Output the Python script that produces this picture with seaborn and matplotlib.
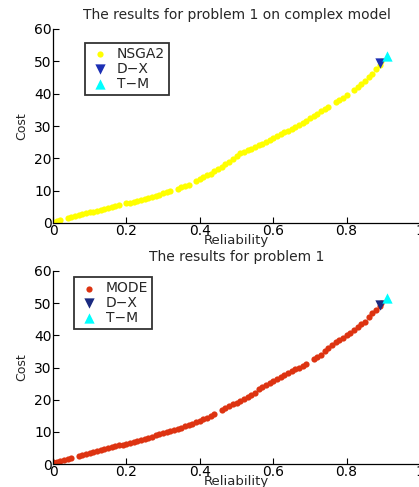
import matplotlib
matplotlib.use("Agg")
import matplotlib.pyplot as plt
import seaborn as sns
import pandas as pd

# ---- data ----
nsga2_rel = [0.00, 0.01, 0.02, 0.04, 0.05, 0.06, 0.07, 0.08, 0.09, 0.10, 0.11, 0.12,
             0.13, 0.14, 0.15, 0.16, 0.17, 0.18, 0.20, 0.21, 0.22, 0.23, 0.24, 0.25,
             0.26, 0.27, 0.28, 0.29, 0.30, 0.31, 0.32, 0.34, 0.35, 0.36, 0.37, 0.39,
             0.40, 0.41, 0.42, 0.43, 0.44, 0.45, 0.46, 0.47, 0.48, 0.49, 0.50, 0.51,
             0.52, 0.53, 0.54, 0.55, 0.56, 0.57, 0.58, 0.59, 0.60, 0.61, 0.62, 0.63,
             0.64, 0.65, 0.66, 0.67, 0.68, 0.69, 0.70, 0.71, 0.72, 0.73, 0.74, 0.75,
             0.77, 0.78, 0.79, 0.80, 0.82, 0.83, 0.84, 0.85, 0.86, 0.87, 0.88, 0.89, 0.895]
nsga2_cost = [0.2, 0.5, 0.8, 1.4, 1.8, 2.1, 2.4, 2.7, 3.0, 3.3, 3.5, 3.8,
              4.1, 4.4, 4.7, 5.0, 5.2, 5.5, 6.1, 6.3, 6.6, 6.9, 7.2, 7.5,
              7.8, 8.1, 8.5, 8.8, 9.2, 9.5, 9.9, 10.6, 11.0, 11.4, 11.9, 12.9,
              13.5, 14.1, 14.7, 15.3, 16.0, 16.7, 17.4, 18.2, 19.0, 19.9, 20.8, 21.5,
              22.0, 22.5, 23.0, 23.5, 24.0, 24.5, 25.1, 25.7, 26.3, 26.8, 27.4, 28.0,
              28.6, 29.2, 29.8, 30.4, 31.0, 31.7, 32.4, 33.1, 33.8, 34.5, 35.2, 35.9,
              37.3, 38.0, 38.8, 39.6, 41.2, 42.1, 43.0, 44.0, 45.0, 46.1, 47.5, 49.0, 50.0]

mode_rel = [0.00, 0.01, 0.02, 0.03, 0.04, 0.05, 0.07, 0.08, 0.09, 0.10, 0.11, 0.12,
            0.13, 0.14, 0.15, 0.16, 0.17, 0.18, 0.19, 0.20, 0.21, 0.22, 0.23, 0.24,
            0.25, 0.26, 0.27, 0.28, 0.29, 0.30, 0.31, 0.32, 0.33, 0.34, 0.35, 0.36,
            0.37, 0.38, 0.39, 0.40, 0.41, 0.42, 0.43, 0.44, 0.46, 0.47, 0.48, 0.49,
            0.50, 0.51, 0.52, 0.53, 0.54, 0.55, 0.56, 0.57, 0.58, 0.59, 0.60, 0.61,
            0.62, 0.63, 0.64, 0.65, 0.66, 0.67, 0.68, 0.69, 0.71, 0.72, 0.73, 0.74,
            0.75, 0.76, 0.77, 0.78, 0.79, 0.80, 0.81, 0.82, 0.83, 0.84, 0.85, 0.86,
            0.87, 0.88, 0.89, 0.895]
mode_cost = [0.5, 0.7, 1.0, 1.3, 1.6, 1.9, 2.4, 2.8, 3.2, 3.4, 3.6, 4.0,
             4.3, 4.6, 5.0, 5.3, 5.6, 5.8, 6.0, 6.2, 6.5, 6.9, 7.2, 7.6,
             7.9, 8.2, 8.4, 8.9, 9.3, 9.6, 9.9, 10.3, 10.6, 10.9, 11.3, 11.7,
             12.1, 12.5, 13.0, 13.4, 13.9, 14.4, 15.0, 15.6, 16.7, 17.3, 18.0, 18.5,
             19.0, 19.6, 20.2, 20.8, 21.3, 22.0, 23.2, 24.0, 24.6, 25.2, 25.9, 26.5,
             27.0, 27.6, 28.2, 28.8, 29.4, 30.0, 30.6, 31.2, 32.5, 33.2, 34.0, 35.2,
             36.2, 37.0, 37.8, 38.6, 39.3, 40.0, 40.8, 41.6, 42.5, 43.4, 44.2, 45.8,
             47.0, 47.8, 49.0, 50.0]

dx_rel, dx_cost = [0.89], [49.5]
tm_rel, tm_cost = [0.91], [51.5]

titles = ["The results for problem 1 on complex model", "The results for problem 1"]
series_names = ["NSGA2", "MODE"]
xticks = [0, 0.2, 0.4, 0.6, 0.8, 1]
xticklabels = ["0", "0.2", "0.4", "0.6", "0.8", "1"]
yticks = [0, 10, 20, 30, 40, 50, 60]

sns.set_style("white")
plt.rcParams['font.family'] = ['DejaVu Sans']

fig = plt.figure(figsize=(4.19, 4.87), dpi=100)
W, H = 419, 487
ax_top = fig.add_axes([53 / W, (H - 223) / H, 367 / W, 194 / H])
ax_bot = fig.add_axes([53 / W, (H - 464) / H, 367 / W, 193 / H])

configs = [
    (ax_top, nsga2_rel, nsga2_cost, series_names[0], "#ffff00", "#1c2fb4", titles[0], (0.087, 0.928)),
    (ax_bot, mode_rel, mode_cost, series_names[1], "#dd3311", "#1a2a80", titles[1], (0.057, 0.969)),
]

for ax, xs, ys, name, col, dxcol, title, anchor in configs:
    df = pd.DataFrame({"Reliability": xs, "Cost": ys})
    sns.scatterplot(data=df, x="Reliability", y="Cost", ax=ax, color=col, s=20,
                    linewidth=0, marker="o", label=name, zorder=2)
    sns.scatterplot(x=dx_rel, y=dx_cost, ax=ax, color=dxcol, marker="v", s=55,
                    linewidth=0, label="D\u2212X", zorder=3)
    sns.scatterplot(x=tm_rel, y=tm_cost, ax=ax, color="#00ffff", marker="^", s=55,
                    linewidth=0, label="T\u2212M", zorder=3)
    ax.set_xlim(0, 1)
    ax.set_ylim(0, 60)
    ax.set_xticks(xticks)
    ax.set_xticklabels(xticklabels)
    ax.set_yticks(yticks)
    ax.tick_params(direction="in", length=4, width=0.8, labelsize=10, pad=1,
                   bottom=True, left=True, top=False, right=False, colors="black")
    for s in ["top", "right"]:
        ax.spines[s].set_visible(False)
    for s in ["left", "bottom"]:
        ax.spines[s].set_color("black")
        ax.spines[s].set_linewidth(0.9)
    ax.set_xlabel("Reliability", fontsize=9.5, labelpad=-3)
    ax.set_ylabel("Cost", fontsize=9, labelpad=4)
    ax.set_title(title, fontsize=10, pad=7)
    leg = ax.legend(loc="upper left", bbox_to_anchor=anchor, frameon=True, fancybox=False,
                    fontsize=10, handletextpad=0.4, borderpad=0.3, labelspacing=0.05,
                    handlelength=1.6, markerscale=1.0, borderaxespad=0)
    leg.get_frame().set_edgecolor("black")
    leg.get_frame().set_linewidth(1.3)

fig.savefig("out.png", dpi=100)
